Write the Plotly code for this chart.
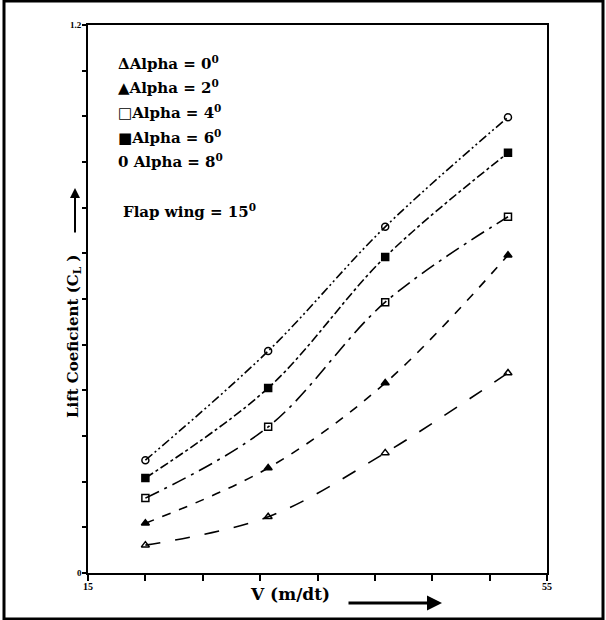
import plotly.graph_objects as go

velocity = [20, 30.7, 40.9, 51.6]
cl_alpha0 = [0.061, 0.123, 0.263, 0.438]
cl_alpha2 = [0.109, 0.230, 0.416, 0.696]
cl_alpha4 = [0.164, 0.320, 0.593, 0.780]
cl_alpha6 = [0.208, 0.405, 0.692, 0.920]
cl_alpha8 = [0.247, 0.486, 0.758, 0.998]

series_names = ["Alpha = 0", "Alpha = 2", "Alpha = 4", "Alpha = 6", "Alpha = 8"]
series_values = [cl_alpha0, cl_alpha2, cl_alpha4, cl_alpha6, cl_alpha8]
legend_labels = ["ΔAlpha = 0<sup>0</sup>", "▲Alpha = 2<sup>0</sup>", "□Alpha = 4<sup>0</sup>",
                 "■Alpha = 6<sup>0</sup>", "0 Alpha = 8<sup>0</sup>"]
y_tick_vals = [round(0.1 * i, 1) for i in range(13)]
x_tick_vals = [15, 20, 25, 30, 35, 40, 45, 50, 55]
y_labels = {0: "0", 1.2: "1.2"}
x_labels = {15: "15", 55: "55"}

symbols = ["triangle-up-open", "triangle-up", "square-open", "square", "circle-open"]
dashes = ["longdash", "dash", "longdashdot", "dashdot", "9px,3px,2px,3px,2px,3px"]

FONT = "DejaVu Serif"
TFONT = "Liberation Serif"
fig = go.Figure()
for name, vals, sym, dsh in zip(series_names, series_values, symbols, dashes):
    fig.add_trace(go.Scatter(
        x=velocity, y=vals, name=name, mode="lines+markers",
        line=dict(color="black", width=1.6, dash=dsh, shape="spline"),
        marker=dict(symbol=sym, size=7, color="black", line=dict(color="black", width=1.5)),
        showlegend=False))

W0, H0 = 88, 573
PW, PH = 459, 548
def px(x):
    return (x - W0) / PW
def py(y):
    return (H0 - y) / PH

annotations = []
for val, lab in y_labels.items():
    annotations.append(dict(x=0, y=val, xref="paper", yref="y", text=lab, showarrow=False,
                            xanchor="right", yanchor="middle", xshift=-4,
                            font=dict(family=TFONT, size=9, color="black", weight="bold")))
for val, lab in x_labels.items():
    annotations.append(dict(x=val, y=0, xref="x", yref="paper", text=lab, showarrow=False,
                            xanchor="center", yanchor="top", yshift=-6,
                            font=dict(family=TFONT, size=10, color="black", weight="bold")))
leg_y = [63, 87, 112, 137, 161]
for lab, yy in zip(legend_labels, leg_y):
    annotations.append(dict(x=px(116), y=py(yy), xref="paper", yref="paper", text=lab,
                            showarrow=False, xanchor="left", yanchor="middle",
                            font=dict(family=FONT, size=15, color="black", weight="bold")))
annotations.append(dict(x=px(121), y=py(211), xref="paper", yref="paper", text="Flap wing = 15<sup>0</sup>",
                        showarrow=False, xanchor="left", yanchor="middle",
                        font=dict(family=FONT, size=15, color="black", weight="bold")))
annotations.append(dict(x=px(73), y=py(337), xref="paper", yref="paper",
                        text="Lift Coeficient (C<sub>L</sub> )", textangle=-90, showarrow=False,
                        xanchor="center", yanchor="middle",
                        font=dict(family=FONT, size=15, color="black", weight="bold")))
annotations.append(dict(x=px(75), y=py(188), xref="paper", yref="paper", ax=0, ay=46,
                        text="", showarrow=True, arrowhead=2, arrowsize=1, arrowwidth=2, arrowcolor="black"))
annotations.append(dict(x=px(290), y=py(594), xref="paper", yref="paper",
                        text="V (m/dt)", showarrow=False, xanchor="center", yanchor="middle",
                        font=dict(family=FONT, size=17, color="black", weight="bold")))
annotations.append(dict(x=px(442), y=py(603), xref="paper", yref="paper", ax=-95, ay=0,
                        text="", showarrow=True, arrowhead=2, arrowsize=1, arrowwidth=3, arrowcolor="black"))

shapes = [dict(type="rect", xref="paper", yref="paper", x0=px(4), x1=px(603), y0=py(619), y1=py(1),
               line=dict(color="black", width=3), fillcolor="rgba(0,0,0,0)", layer="below")]

fig.update_layout(
    width=606, height=620,
    margin=dict(l=88, r=59, t=25, b=47),
    paper_bgcolor="white", plot_bgcolor="white",
    annotations=annotations, shapes=shapes,
    xaxis=dict(range=[15, 55], tickvals=x_tick_vals, showticklabels=False, ticks="outside",
               ticklen=6, tickwidth=1.5, tickcolor="black", showline=True, linecolor="black",
               linewidth=1.8, mirror=True, showgrid=False, zeroline=False),
    yaxis=dict(range=[0, 1.2], tickvals=y_tick_vals, showticklabels=False, ticks="outside",
               ticklen=4, tickwidth=1.5, tickcolor="black", showline=True, linecolor="black",
               linewidth=1.8, mirror=True, showgrid=False, zeroline=False),
)
fig.write_html("out.html", config={"displayModeBar": False},
               post_script="document.body.style.margin='0';document.body.style.overflow='hidden';")
